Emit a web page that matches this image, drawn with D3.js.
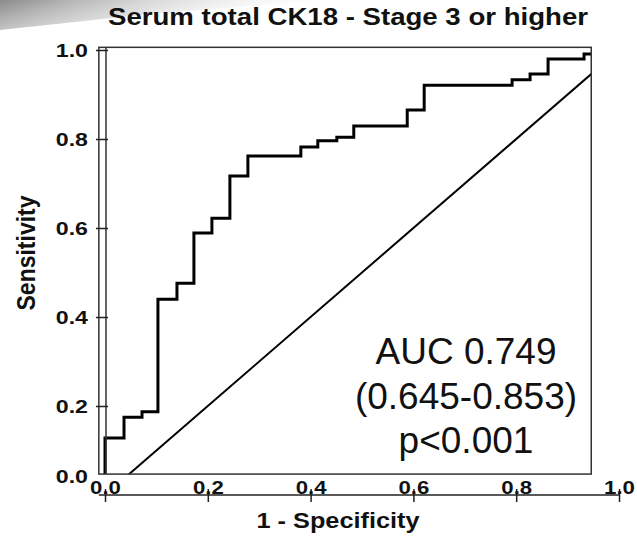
<!DOCTYPE html>
<html>
<head>
<meta charset="utf-8">
<script src="https://cdn.jsdelivr.net/npm/d3@7"></script>
<style>
  body { margin: 0; background: #fff; }
  svg { display: block; font-family: "Liberation Sans", Arial, Helvetica, sans-serif; }
</style>
</head>
<body>
<svg id="chart" width="637" height="539"></svg>
<script>
// ROC curve (1 - specificity, sensitivity)
var fpr = [0, 0, 0.037, 0.072, 0.103, 0.140, 0.173, 0.208, 0.243, 0.278, 0.381, 0.414,
           0.451, 0.484, 0.588, 0.621, 0.792, 0.827, 0.862, 0.932, 1];
var tpr = [0, 0.128, 0.175, 0.187, 0.440, 0.476, 0.589, 0.622, 0.717, 0.762, 0.782, 0.796,
           0.804, 0.829, 0.865, 0.921, 0.933, 0.946, 0.980, 0.991, 1];
var refLine = [0, 1];
var xTicks = [0, 0.2, 0.4, 0.6, 0.8, 1.0];
var yTicks = [0.2, 0.4, 0.6, 0.8, 1.0];
var title = "Serum total CK18 - Stage 3 or higher";
var xTitle = "1 - Specificity";
var yTitle = "Sensitivity";
var notes = ["AUC 0.749", "(0.645-0.853)", "p<0.001"];

var svg = d3.select("#chart");

var x = d3.scaleLinear().domain([0, 1]).range([105, 619]);
var y = d3.scaleLinear().domain([0, 1]).range([495, 50]);

// visible plot window (the frame cuts the data area)
var fx0 = x(-0.012), fx1 = x(0.946), fy0 = y(1.006), fy1 = y(0.047);

// scan smudge in the top left corner
var grad = svg.append("defs").append("linearGradient")
  .attr("id", "smudge").attr("x1", "0%").attr("y1", "0%").attr("x2", "100%").attr("y2", "30%");
grad.append("stop").attr("offset", "0%").attr("stop-color", "#8a8a8a");
grad.append("stop").attr("offset", "100%").attr("stop-color", "#fff").attr("stop-opacity", 0);
svg.append("path")
  .attr("d", "M0,0 L330,0 L150,14 L0,30 Z")
  .attr("fill", "url(#smudge)");

svg.select("defs").append("clipPath").attr("id", "clip")
  .append("rect")
  .attr("x", fx0).attr("y", fy0)
  .attr("width", fx1 - fx0).attr("height", fy1 - fy0);

var plot = svg.append("g").attr("clip-path", "url(#clip)");

// chance line
plot.append("line")
  .attr("x1", x(refLine[0])).attr("y1", y(refLine[0]))
  .attr("x2", x(refLine[1])).attr("y2", y(refLine[1]))
  .attr("stroke", "#000").attr("stroke-width", 2);

var pts = fpr.map(function(d, i) { return [d, tpr[i]]; });
var line = d3.line()
  .x(function(d) { return x(d[0]); })
  .y(function(d) { return y(d[1]); })
  .curve(d3.curveStepAfter);

plot.append("path")
  .datum(pts)
  .attr("d", line)
  .attr("fill", "none")
  .attr("stroke", "#000")
  .attr("stroke-width", 3);

// frame
svg.append("rect")
  .attr("x", fx0).attr("y", fy0)
  .attr("width", fx1 - fx0).attr("height", fy1 - fy0)
  .attr("fill", "none").attr("stroke", "#333").attr("stroke-width", 1.5);
svg.append("line")
  .attr("x1", x(0) + 1).attr("x2", x(0) + 1)
  .attr("y1", fy0).attr("y2", fy1)
  .attr("stroke", "#333").attr("stroke-width", 1.5);

// y axis
var yAxis = d3.axisLeft(y).tickValues(yTicks).tickSize(12).tickFormat(d3.format(".1f"));
var gy = svg.append("g")
  .attr("transform", "translate(" + (x(0) + 3) + ",0)")
  .call(yAxis);
gy.select(".domain").remove();
gy.selectAll(".tick line").attr("stroke", "#222").attr("stroke-width", 1.5);
gy.selectAll(".tick text")
  .attr("x", null)
  .attr("transform", "translate(-20,0) scale(1.22,1)")
  .attr("font-size", 19).attr("font-weight", "bold").attr("fill", "#111");
svg.append("text")
  .attr("transform", "translate(" + (x(0) - 17) + "," + y(0.04) + ") scale(1.22,1)")
  .attr("dy", "0.32em")
  .attr("text-anchor", "end")
  .attr("font-size", 19).attr("font-weight", "bold").attr("fill", "#111")
  .text(d3.format(".1f")(0));

// x axis
svg.append("line")
  .attr("x1", fx0).attr("x2", x(1))
  .attr("y1", y(0)).attr("y2", y(0))
  .attr("stroke", "#222").attr("stroke-width", 1.5);
var xAxis = d3.axisBottom(x).tickValues(xTicks).tickSize(13).tickSizeOuter(0).tickFormat(d3.format(".1f"));
var gx = svg.append("g")
  .attr("transform", "translate(0," + (y(0) - 6) + ")")
  .call(xAxis);
gx.select(".domain").remove();
gx.selectAll(".tick line").attr("stroke", "#222").attr("stroke-width", 1.5);
gx.selectAll(".tick text")
  .attr("y", null).attr("dy", null)
  .attr("transform", "translate(0,5) scale(1.2,1)")
  .attr("font-size", 18.5).attr("font-weight", "bold").attr("fill", "#111");

// titles
svg.append("text")
  .attr("transform", "translate(108,25) scale(1.15,1)")
  .attr("font-size", 24).attr("font-weight", "bold").attr("fill", "#111")
  .text(title);
svg.append("text")
  .attr("transform", "translate(338,528) scale(1.15,1)")
  .attr("text-anchor", "middle")
  .attr("font-size", 22).attr("font-weight", "bold").attr("fill", "#111")
  .text(xTitle);
svg.append("text")
  .attr("transform", "translate(35,253) rotate(-90) scale(1,1.15)")
  .attr("text-anchor", "middle")
  .attr("font-size", 23).attr("font-weight", "bold").attr("fill", "#111")
  .text(yTitle);

// AUC annotation
svg.append("g").selectAll("text")
  .data(notes)
  .enter().append("text")
  .attr("x", 466)
  .attr("y", function(d, i) { return 364 + i * 44.5; })
  .attr("text-anchor", "middle")
  .attr("font-size", 37).attr("fill", "#111")
  .text(function(d) { return d; });
</script>
</body>
</html>
